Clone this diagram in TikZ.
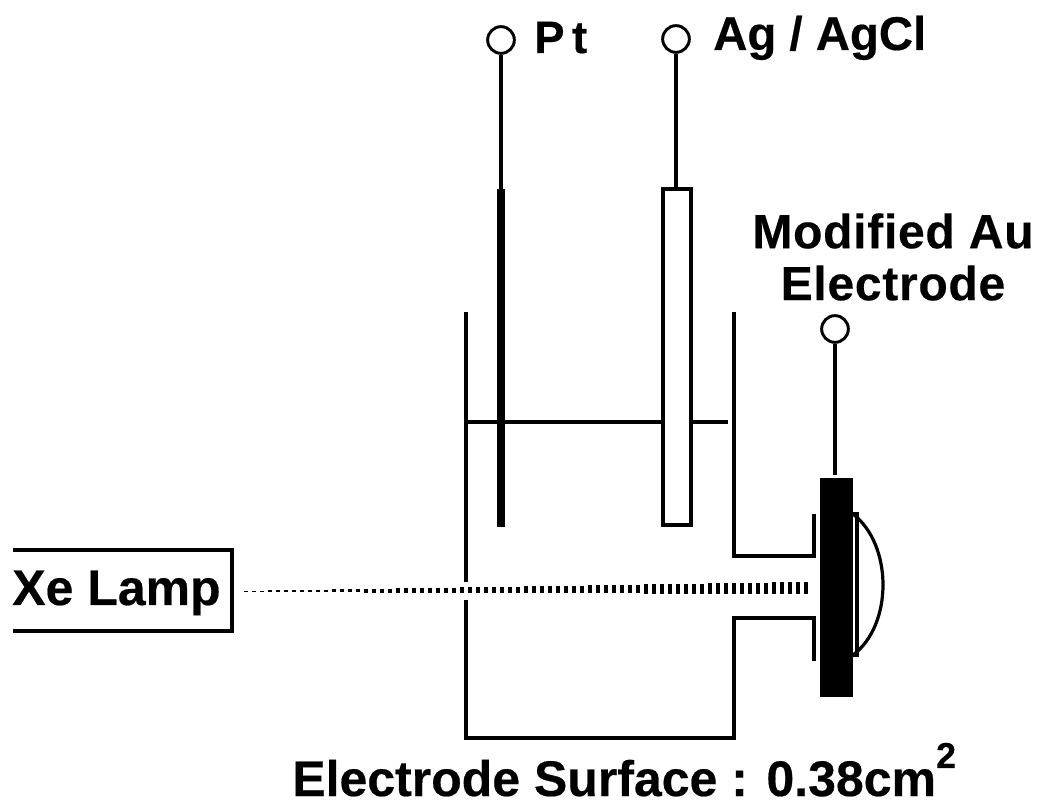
\documentclass[tikz,border=0pt]{standalone}
\usepackage{fontspec}
\setmainfont{Liberation Sans}[BoldFeatures={FakeBold=0.4}]
\newfontfamily\spacedfont{Liberation Sans}[LetterSpace=1.5,BoldFeatures={FakeBold=0.4}]
\usetikzlibrary{positioning}
\begin{document}
\begin{tikzpicture}[x=0.75pt,y=-0.75pt,
    terminal/.style={circle,draw,line width=2.2pt,fill=white,minimum size=20pt,inner sep=0pt},
    wire/.style={line width=2.4pt},
    wall/.style={line width=2.4pt},
    label/.style={font=\bfseries\fontsize{37.5}{40}\selectfont,inner sep=0pt}
  ]
    \useasboundingbox (0,0) rectangle (1040,805);
    % terminals
    \node[terminal] (ptterm) at (501,40) {};
    \node[terminal] (agterm) at (676,39) {};
    \node[terminal] (auterm) at (835,329) {};
    % electrodes
    \node[fill=black,minimum width=6pt,minimum height=253pt,inner sep=0pt] (pt) at (501,358) {};
    \node[draw,line width=2.4pt,minimum width=21pt,minimum height=252pt,inner sep=0pt] (ag) at (677,357) {};
    \node[fill=black,minimum width=25pt,minimum height=164.5pt,inner sep=0pt] (au) at (836.5,587.5) {};
    \draw[wire] (ptterm) -- (pt.north);
    \draw[wire] (agterm) -- (agterm|-ag.north);
    \draw[wire,shorten >=2pt] (auterm) -- (auterm|-au.north);
    % cell
    \coordinate (cellul) at (466,312);
    \coordinate (cellur) at (734,312);
    \coordinate (gapt) at (466,582);
    \coordinate (gapb) at (466,600);
    \draw[wall] (cellul) -- (gapt);
    \draw[wall] (gapb) -- (466,738) -- (734,738) -- (734,618) -- (814,618) -- (814,661);
    \draw[wall] (cellur) -- (734,556) -- (814,556) -- (814,514);
    % solution level
    \coordinate (levell) at (466,422);
    \coordinate (levelr) at (728,422);
    \draw[wire] (levell) -- (ag.west|-levell);
    \draw[wire] (ag.east|-levelr) -- (levelr);
    % window and drop
    \coordinate (dropt) at (853,514);
    \coordinate (dropb) at (853,655);
    \draw[wire] (dropt) -- (857,514) -- (857,655) -- (dropb);
    \draw[wire] (dropt) .. controls (893,545) and (893,625) .. (dropb);
    % lamp
    \node[label,anchor=base west] (lamp) at (12,605) {Xe Lamp};
    \coordinate (lampul) at (13,550);
    \coordinate (lampbl) at (13,631);
    \draw[line width=2.6pt] (lampul) -- (232,550) -- (232,631) -- (lampbl);
    % light path
    \foreach \n in {0,...,70}{
      \pgfmathsetmacro{\bx}{246+8*\n}
      \pgfmathsetmacro{\by}{591.5-0.00625*(\bx-245)}
      \pgfmathsetmacro{\bh}{1.2+0.0195*(\bx-245)}
      \pgfmathsetmacro{\bw}{4.2-0.0009*(\bx-245)}
      \draw[line width=\bw*0.75pt] (\bx,\by-\bh/2) -- (\bx,\by+\bh/2);
    }
    % labels
    \node[label,font=\bfseries\fontsize{34}{38}\selectfont,anchor=base west] (ptlabel) at (534,53) {P\,t};
    \node[label,font=\bfseries\fontsize{35.5}{38}\selectfont,anchor=base west] (aglabel) at (713,50) {Ag / AgCl};
    \node[label,font=\spacedfont\bfseries\fontsize{36}{39}\selectfont,align=center] (aulabel) at (893,257) {Modified Au\\Electrode};
    \node[label,anchor=base west] (surface) at (292,796) {Electrode Surface : 0.38cm\raisebox{21pt}{\fontsize{27}{27}\selectfont 2}};
  \end{tikzpicture}
\end{document}
